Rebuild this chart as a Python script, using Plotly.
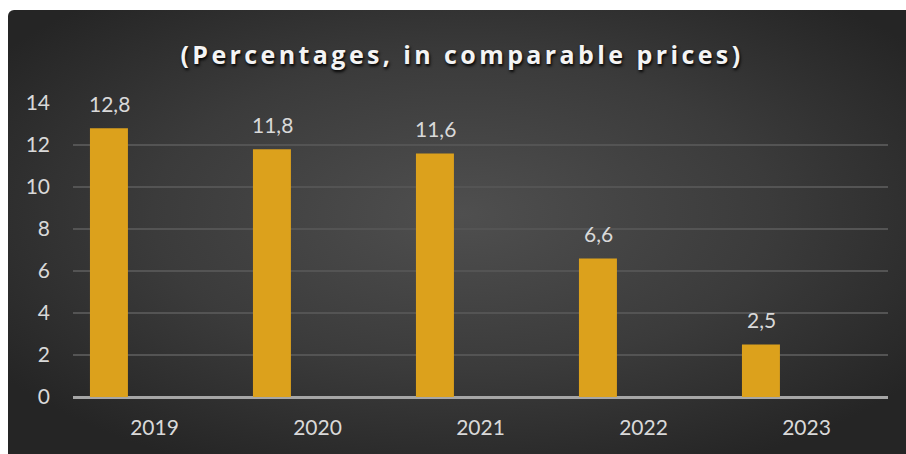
import plotly.graph_objects as go
import base64

# ---- data ----
years = ["2019", "2020", "2021", "2022", "2023"]
values = [12.8, 11.8, 11.6, 6.6, 2.5]
value_labels = ["12,8", "11,8", "11,6", "6,6", "2,5"]
y_ticks = [0, 2, 4, 6, 8, 10, 12, 14]
title_text = "(Percentages, in comparable prices)"

W, H = 906, 454
L, R, T, B = 73, 18, 103, 57
pw, ph = W - L - R, H - T - B

svg = f"""<svg xmlns='http://www.w3.org/2000/svg' width='{W}' height='{H}' viewBox='0 0 {W} {H}' preserveAspectRatio='none'>
<defs>
<radialGradient id='g' cx='0.5' cy='0.45' r='0.62' gradientUnits='objectBoundingBox'>
<stop offset='0' stop-color='#4f4f4f'/>
<stop offset='0.55' stop-color='#3b3b3b'/>
<stop offset='1' stop-color='#252525'/>
</radialGradient>
</defs>
<rect x='0' y='0' width='{W}' height='{H}' fill='white'/>
<rect x='8' y='10' width='{W-8+10}' height='{H-10+10}' rx='6' ry='6' fill='url(#g)'/>
</svg>"""
img_src = "data:image/svg+xml;base64," + base64.b64encode(svg.encode()).decode()

fig = go.Figure()
fig.add_trace(go.Bar(
    x=years, y=values,
    width=0.233, offset=-0.396,
    marker=dict(color="#dca11c", line=dict(width=0)),
    hoverinfo="skip",
))

for i, (v, lab) in enumerate(zip(values, value_labels)):
    fig.add_annotation(
        x=i, y=v, text=lab, showarrow=False,
        xshift=-45.5, yshift=25,
        font=dict(family="Lato, Open Sans, sans-serif", size=21, color="#d9d9d9"),
    )

fig.update_layout(
    width=W, height=H,
    margin=dict(l=L, r=R, t=T, b=B, pad=0),
    paper_bgcolor="white",
    plot_bgcolor="rgba(0,0,0,0)",
    showlegend=False,
    title=dict(
        text=title_text,
        x=462 / W, xanchor="center", xref="container",
        y=1 - 55 / H, yanchor="middle", yref="container",
        font=dict(family="Open Sans, sans-serif", size=25, color="#f4f4f4",
                  weight="bold", shadow="1px 2px 3px #000000"),
    ),
    images=[dict(
        source=img_src, xref="paper", yref="paper",
        x=-L / pw, y=1 + T / ph, sizex=W / pw, sizey=H / ph,
        xanchor="left", yanchor="top", sizing="stretch", layer="below",
    )],
    xaxis=dict(
        type="category", range=[-0.5, len(years) - 0.5],
        showgrid=False, zeroline=False, showline=False, ticks="",
        tickfont=dict(family="Lato, Open Sans, sans-serif", size=21, color="#d9d9d9"),
        ticklabelstandoff=16,
    ),
    yaxis=dict(
        range=[0, 14], tickvals=y_ticks, showgrid=True,
        gridcolor="#545454", gridwidth=2,
        zeroline=True, zerolinecolor="#a6a6a6", zerolinewidth=3,
        showline=False, ticks="",
        tickfont=dict(family="Lato, Open Sans, sans-serif", size=21, color="#d9d9d9"),
        ticklabelstandoff=22,
    ),
)

post = """
document.body.style.margin='0';
var t=document.querySelector('.gtitle');
if(t){t.style.letterSpacing='3.4px';}
"""
fig.write_html("out.html", post_script=post, config={"displayModeBar": False})
